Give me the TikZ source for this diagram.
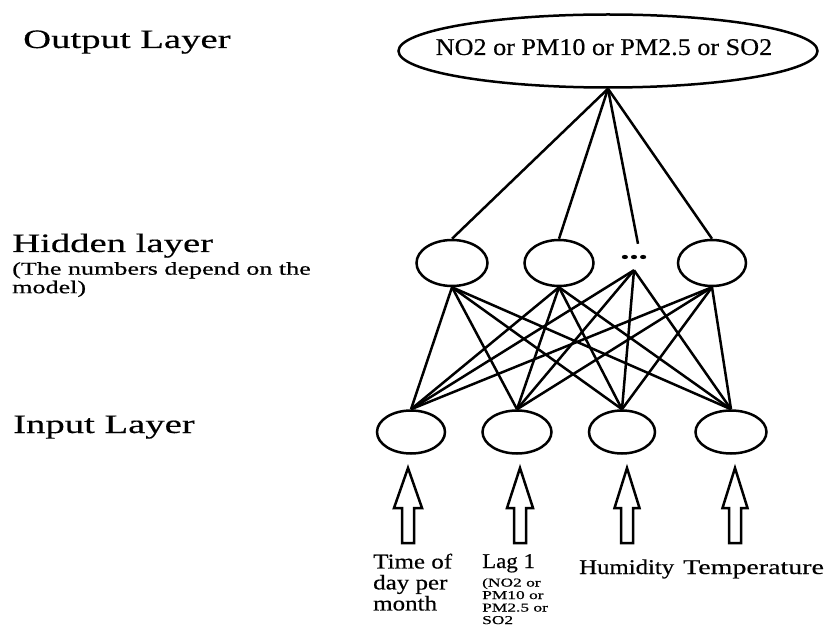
\documentclass[tikz,border=0pt]{standalone}
\usepackage{fontspec}
\setmainfont{Liberation Serif}
\newfontfamily\fL[FakeStretch=1.46,FakeBold=0.4]{Liberation Serif}
\newfontfamily\fE[FakeStretch=1.09,FakeBold=0.4]{Liberation Serif}
\newfontfamily\fT[FakeStretch=1.19,FakeBold=0.4]{Liberation Serif}
\newfontfamily\fH[FakeStretch=1.18,FakeBold=0.4]{Liberation Serif}
\newfontfamily\fP[FakeStretch=1.33,FakeBold=0.4]{Liberation Serif}
\newfontfamily\fS[FakeStretch=1.45,FakeBold=0.6]{Liberation Serif}
\usetikzlibrary{shapes.geometric}
\begin{document}
\begin{tikzpicture}[x=1pt,y=-1pt,
  neuron/.style={draw, ellipse, line width=2.5pt, inner sep=0pt},
  conn/.style={line width=2.5pt},
  inarrow/.style={draw, line width=2.5pt, line join=miter},
  lbl/.style={inner sep=0pt, anchor=base west},
  lblnw/.style={inner sep=0pt, anchor=north west, align=left},
  bigfont/.style={font=\fL\fontsize{26.5}{26.5}\selectfont},
]
\useasboundingbox (0,0) rectangle (830,628);

% left layer labels
\node[lbl, bigfont] (lout) at (23,48) {Output Layer};
\node[lbl, bigfont] (lhid) at (12,252) {Hidden layer};
\node[lblnw, font=\fS\fontsize{18}{18.5}\selectfont] (lhidnote) at (12,262) {(The numbers depend on the\\model)};
\node[lbl, bigfont] (lin) at (13,433) {Input Layer};

% output node
\node[neuron, minimum width=419pt, minimum height=73pt] (out) at (608,51) {};
\node[inner sep=0pt, anchor=base, font=\fE\fontsize{24}{24}\selectfont] (outtxt) at (604,55) {NO2 or PM10 or PM2.5 or SO2};

% hidden nodes
\node[neuron, minimum width=71pt, minimum height=46pt] (h1) at (452,263) {};
\node[neuron, minimum width=69pt, minimum height=46pt] (h2) at (559,263) {};
\node[inner sep=0pt, minimum width=20pt, minimum height=26pt, font=\fL\bfseries\fontsize{25}{25}\selectfont] (h3) at (634,257) {...};
\node[neuron, minimum width=68pt, minimum height=46pt] (h4) at (712,263) {};

% input nodes
\node[neuron, minimum width=68pt, minimum height=43pt] (i1) at (411,432) {};
\node[neuron, minimum width=69pt, minimum height=43pt] (i2) at (517,432) {};
\node[neuron, minimum width=66pt, minimum height=43pt] (i3) at (622,432) {};
\node[neuron, minimum width=71pt, minimum height=43pt] (i4) at (731,432) {};

% output connections
\draw[conn] (out.south) -- (h1.north);
\draw[conn] (out.south) -- (h2.north);
\draw[conn] (out.south) -- ([xshift=4pt]h3.north);
\draw[conn] (out.south) -- (h4.north);

% hidden-input connections
\foreach \h in {h1,h2,h3,h4}
  \foreach \i in {i1,i2,i3,i4}
    \draw[conn] (\h.south) -- (\i.north);

% hollow input arrows
\foreach \n/\x/\hw in {1/408/14,2/520/13,3/627/12.5,4/735/12.5}{
  \coordinate (t\n) at (\x,468);
  \draw[inarrow] (t\n) -- ++(\hw,40) -- ++(-\hw+6,0) -- ++(0,35) -- ++(-12,0) -- ++(0,-35) -- ++(-\hw+6,0) -- cycle;
}

% input labels
\node[lblnw, font=\fT\fontsize{21}{21}\selectfont] (ltime) at (373,553.5) {Time of\\day per\\month};
\node[lbl, font=\fE\fontsize{21}{21}\selectfont] (llag) at (482,568) {Lag 1};
\node[lblnw, font=\fS\fontsize{12}{12.5}\selectfont] (llagnote) at (482,578) {(NO2 or\\PM10 or\\PM2.5 or\\SO2};
\node[lbl, font=\fH\fontsize{21}{21}\selectfont] (lhum) at (579,574) {Humidity};
\node[lbl, font=\fP\fontsize{21}{21}\selectfont] (ltemp) at (683,574) {Temperature};
\end{tikzpicture}
\end{document}
